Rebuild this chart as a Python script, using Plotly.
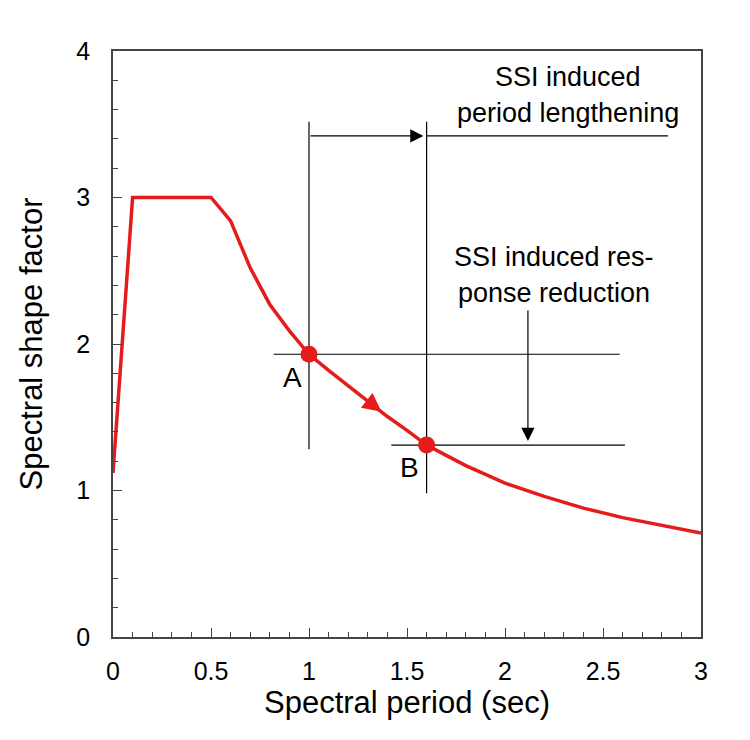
import plotly.graph_objects as go

# ---- data ----
period = [0, 0.1, 0.5, 0.6, 0.7, 0.8, 0.9, 1.0, 1.1, 1.2, 1.3, 1.4, 1.5, 1.6,
          1.7, 1.8, 1.9, 2.0, 2.2, 2.4, 2.6, 2.8, 3.0]
shape_factor = [1.12, 3.0, 3.0, 2.84, 2.52, 2.27, 2.09, 1.93, 1.82, 1.715, 1.61,
                1.505, 1.41, 1.31, 1.24, 1.17, 1.11, 1.05, 0.96, 0.88, 0.815,
                0.76, 0.71]

point_labels = ["A", "B"]
point_x = [1.0, 1.6]
point_y = [1.93, 1.31]

# guide lines: (x0, y0, x1, y1)
guide_lines = [
    (1.0, 3.517, 1.0, 1.281),     # vertical through A
    (1.6, 3.517, 1.6, 0.981),     # vertical through B
    (1.6, 3.42, 2.832, 3.42),     # top line right of B
    (0.82, 1.93, 2.585, 1.93),    # horizontal through A
    (1.42, 1.31, 2.612, 1.31),    # horizontal through B
]
# arrows: (tail_x, tail_y, tip_x, tip_y)
black_arrows = [
    (1.0, 3.42, 1.584, 3.42),     # period lengthening
    (2.117, 2.239, 2.117, 1.338), # response reduction
]
curve_arrow = (1.22, 1.694, 1.37, 1.537)

texts = [
    ("SSI induced", 2.321, 3.825),
    ("period lengthening", 2.321, 3.575),
    ("SSI induced res-", 2.25, 2.595),
    ("ponse reduction", 2.25, 2.345),
]

x_ticks = [0, 0.5, 1, 1.5, 2, 2.5, 3]
x_tick_text = ["0", "0.5", "1", "1.5", "2", "2.5", "3"]
y_ticks = [0, 1, 2, 3, 4]

RED = "#e41c1c"
FONT = "Liberation Sans, Arial, sans-serif"

fig = go.Figure()

fig.add_trace(go.Scatter(x=period, y=shape_factor, mode="lines",
                         line=dict(color=RED, width=3.5), hoverinfo="skip",
                         showlegend=False))
fig.add_trace(go.Scatter(x=point_x, y=point_y, mode="markers",
                         marker=dict(color=RED, size=17), showlegend=False))

for (x0, y0, x1, y1) in guide_lines:
    fig.add_shape(type="line", x0=x0, y0=y0, x1=x1, y1=y1, xref="x", yref="y",
                  line=dict(color="black", width=1.2), layer="below")

annotations = []
for (tx, ty, hx, hy) in black_arrows:
    annotations.append(dict(x=hx, y=hy, ax=tx, ay=ty, xref="x", yref="y",
                            axref="x", ayref="y", text="", showarrow=True,
                            arrowhead=2, arrowsize=2.2, arrowwidth=1.2,
                            arrowcolor="black"))
tx, ty, hx, hy = curve_arrow
annotations.append(dict(x=hx, y=hy, ax=tx, ay=ty, xref="x", yref="y",
                        axref="x", ayref="y", text="", showarrow=True,
                        arrowhead=2, arrowsize=1.5, arrowwidth=2.5,
                        arrowcolor=RED))

for (t, x, y) in texts:
    annotations.append(dict(x=x, y=y, xref="x", yref="y", text=t,
                            showarrow=False, font=dict(size=27, color="black",
                                                       family=FONT)))

label_offsets = [(-0.085, -0.16), (-0.085, -0.15)]
for lab, x, y, (dx, dy) in zip(point_labels, point_x, point_y, label_offsets):
    annotations.append(dict(x=x + dx, y=y + dy, xref="x", yref="y", text=lab,
                            showarrow=False,
                            font=dict(size=28, color="black", family=FONT)))

fig.update_layout(
    width=750, height=740,
    margin=dict(l=113, r=49, t=51, b=103),
    paper_bgcolor="white", plot_bgcolor="white",
    font=dict(family=FONT, color="black"),
    annotations=annotations,
    showlegend=False,
)

axis_common = dict(showgrid=False, zeroline=False, showline=True,
                   linecolor="#444444", linewidth=1.5, mirror=True,
                   ticks="inside", tickcolor="#444444", tickwidth=1.2,
                   ticklen=9, tickfont=dict(size=25, color="black", family=FONT))

fig.update_xaxes(range=[0, 3], tickvals=x_ticks, ticktext=x_tick_text,
                 minor=dict(dtick=0.1, ticks="inside", ticklen=5,
                            tickcolor="#444444", tickwidth=1.2),
                 title=dict(text="Spectral period (sec)",
                            font=dict(size=31, family=FONT), standoff=6),
                 ticklabelstandoff=11, **axis_common)
fig.update_yaxes(range=[0, 4], tickvals=y_ticks,
                 minor=dict(dtick=0.2, ticks="inside", ticklen=5,
                            tickcolor="#444444", tickwidth=1.2),
                 title=dict(text="Spectral shape factor",
                            font=dict(size=31, family=FONT), standoff=24),
                 ticklabelstandoff=16, **axis_common)

fig.write_html("out.html")
